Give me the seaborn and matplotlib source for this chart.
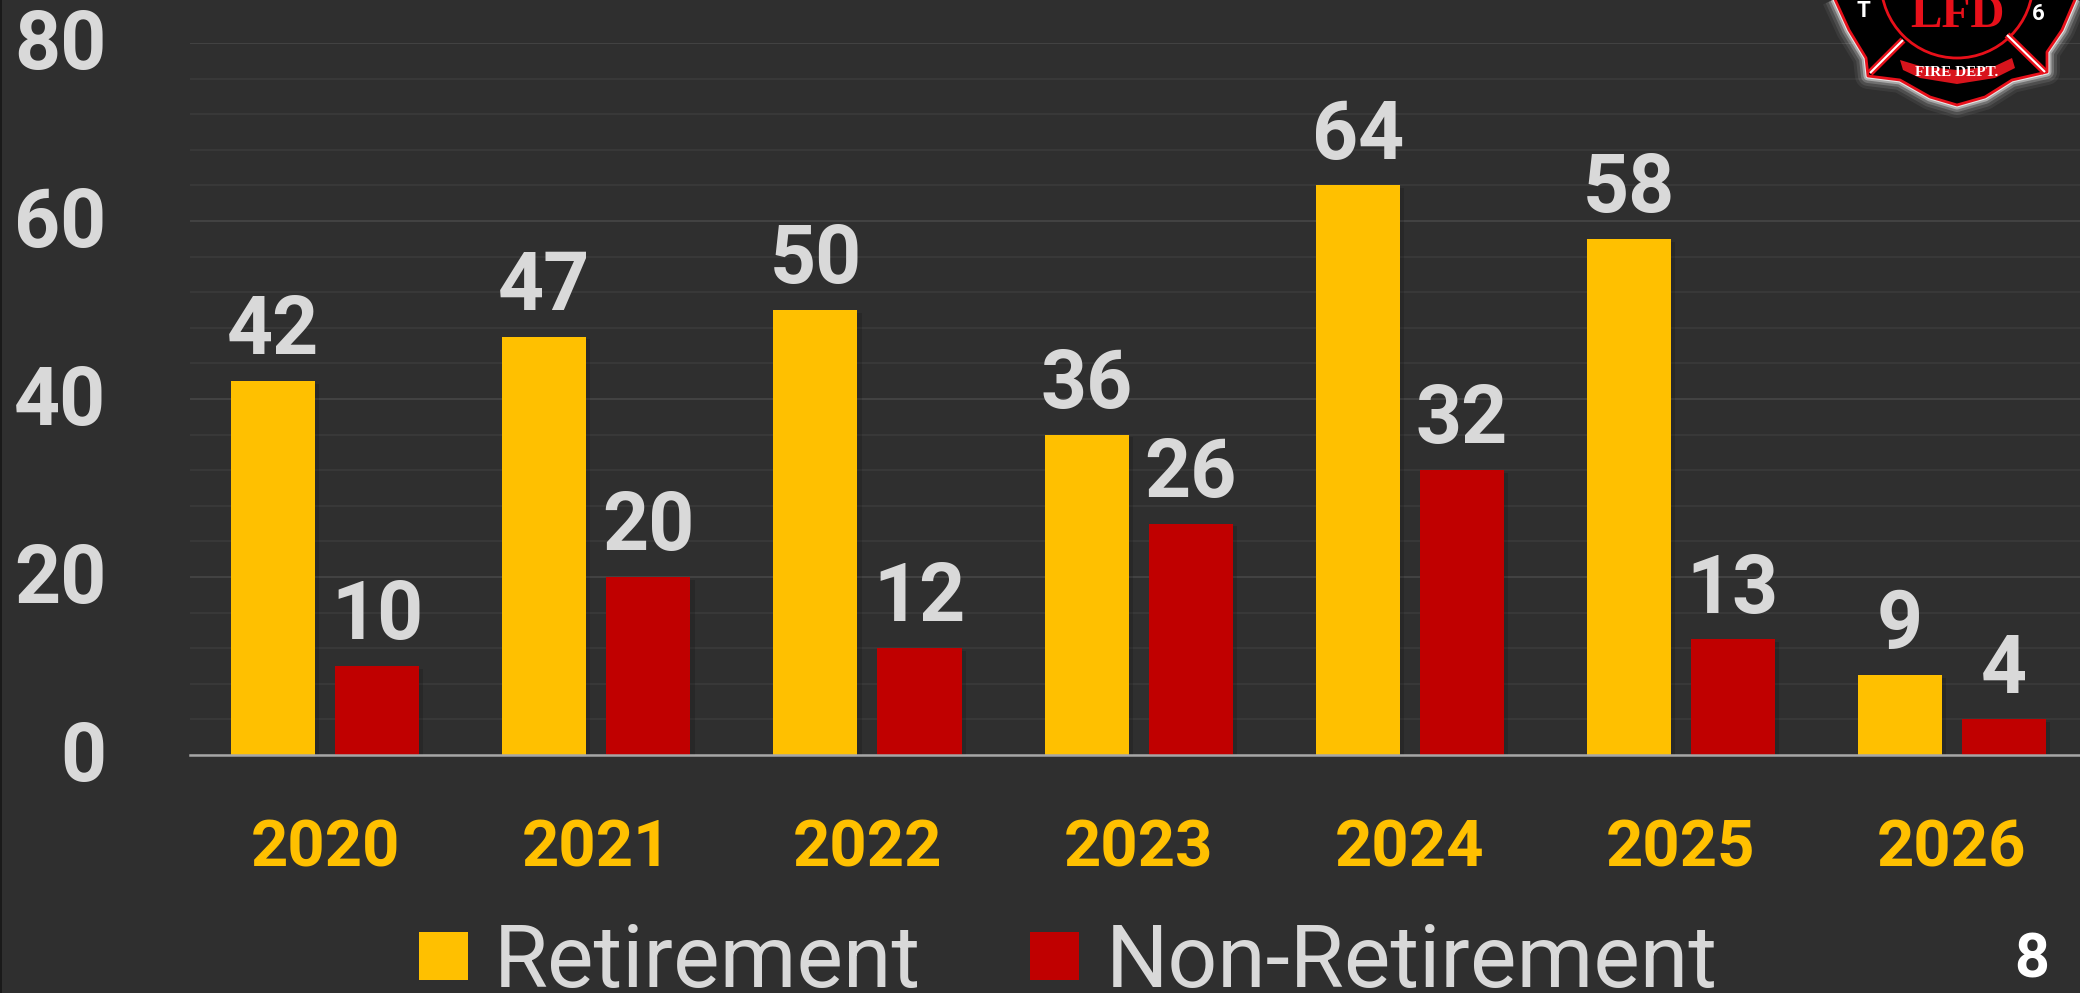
import numpy as np
import pandas as pd
import seaborn as sns
import matplotlib
matplotlib.use('Agg')
import matplotlib.pyplot as plt
import matplotlib.patheffects as pe
from matplotlib.patches import Polygon, Circle, Rectangle
from matplotlib.ticker import MultipleLocator
from matplotlib.transforms import ScaledTranslation

years = ['2020', '2021', '2022', '2023', '2024', '2025', '2026']
retirement = [42, 47, 50, 36, 64, 58, 9]
non_retirement = [10, 20, 12, 26, 32, 13, 4]
y_ticks = [0, 20, 40, 60, 80]

BG = '#2f2f2f'
YELLOW = '#ffc000'
RED = '#c00000'
GREY = '#d9d9d9'

sns.set_theme(style='dark', rc={'figure.facecolor': BG, 'axes.facecolor': BG})
plt.rcParams['font.family'] = ['Roboto', 'DejaVu Sans']

df = pd.DataFrame({
    'year': years * 2,
    'count': retirement + non_retirement,
    'kind': ['Retirement'] * 7 + ['Non-Retirement'] * 7,
})

W, H = 2080, 993
fig = plt.figure(figsize=(W / 100, H / 100), dpi=100, facecolor=BG)
# axes run a bit past the right edge, same as the slide
ax = fig.add_axes([189.6 / W, (H - 755) / H, 1898 / W, 712 / H])

sns.barplot(data=df, x='year', y='count', hue='kind', order=years,
            hue_order=['Retirement', 'Non-Retirement'],
            palette=[YELLOW, RED], saturation=1, width=0.7675, gap=0.192,
            linewidth=0, ax=ax, zorder=3)

ax.set_xlim(-0.5, 6.5)
ax.set_ylim(0, 80)
ax.set_xlabel('')
ax.set_ylabel('')
ax.set_yticks(y_ticks)
ax.yaxis.set_minor_locator(MultipleLocator(4))
ax.grid(True, axis='y', which='major', color='#464646', lw=1.2, zorder=0)
ax.grid(True, axis='y', which='minor', color='#3b3b3b', lw=1.2, zorder=0)
ax.grid(False, axis='x')
ax.set_axisbelow(True)
for s in ['top', 'left', 'right']:
    ax.spines[s].set_visible(False)
ax.spines['bottom'].set_color('#a6a6a6')
ax.spines['bottom'].set_linewidth(1.8)
ax.spines['bottom'].set_zorder(5)

ax.tick_params(axis='y', which='both', length=0)
ax.tick_params(axis='x', which='both', length=0, pad=46)
ax.tick_params(axis='y', which='major', pad=60)
up = ScaledTranslation(0, 5 / 100, fig.dpi_scale_trans)
for t in ax.get_yticklabels():
    t.set_fontsize(58)
    t.set_fontweight('bold')
    t.set_color(GREY)
    t.set_transform(t.get_transform() + up)
for t in ax.get_xticklabels():
    t.set_fontsize(47)
    t.set_fontweight('bold')
    t.set_color(YELLOW)

for cont in ax.containers:
    for b in cont:
        b.set_path_effects([pe.SimplePatchShadow(offset=(3, -2), shadow_rgbFace='black', alpha=0.15),
                            pe.Normal()])
    ax.bar_label(cont, fontsize=58, fontweight='bold', color=GREY, padding=7)

leg = ax.legend(loc='center', bbox_to_anchor=(1068 / W, (H - 963) / H), bbox_transform=fig.transFigure,
                ncol=2, frameon=False, prop={'family': 'Roboto', 'weight': 'normal', 'size': 63},
                handlelength=0.56, handleheight=0.48, handletextpad=0.3, columnspacing=1.25)
for t in leg.get_texts():
    t.set_color(GREY)

fig.text(2032 / W, 1 - 960 / H, '8', fontsize=44, fontweight='bold', color='white', ha='center', va='center')

# overlay in pixel coords for the logo and left edge
ov = fig.add_axes([0, 0, 1, 1], facecolor='none')
ov.set_xlim(0, W)
ov.set_ylim(H, 0)
ov.axis('off')
ov.add_patch(Rectangle((0, 0), 1.5, H, color='#1a1a1a', lw=0))

shield = [(1833, -5), (1849, 30), (1866, 58), (1868, 76), (1900, 80), (1930, 97), (1957, 105),
          (1985, 97), (2012, 80), (2047, 72), (2047, 52), (2062, 30), (2077, -5)]
for lw, a in [(26, 0.06), (20, 0.1), (14, 0.2), (9, 0.4), (5, 0.7)]:
    ov.add_patch(Polygon(shield, closed=True, fc='none', ec='white', lw=lw * 0.72, alpha=a, joinstyle='round'))
ov.add_patch(Polygon(shield, closed=True, fc='black', ec='#e8101a', lw=2, joinstyle='round'))
ov.add_patch(Circle((1957, -18), 76, fc='black', ec='#e8101a', lw=2))
ov.plot([1870, 1903], [73, 40], color='#e8101a', lw=5, solid_capstyle='butt')
ov.plot([1870, 1903], [73, 40], color='white', lw=1.5, solid_capstyle='butt')
ov.plot([2045, 2007], [72, 35], color='#e8101a', lw=5, solid_capstyle='butt')
ov.plot([2045, 2007], [72, 35], color='white', lw=1.5, solid_capstyle='butt')
ov.add_patch(Polygon([(1900, 60), (1920, 66), (1957, 70), (1995, 66), (2012, 58), (2015, 68),
                      (1995, 78), (1957, 84), (1920, 78), (1903, 70)], closed=True, fc='#d8141c', lw=0))
ov.text(1957, 73, 'FIRE DEPT.', fontsize=11, fontweight='bold', family='Liberation Serif', color='white',
        ha='center', va='center')
ov.text(1863, 11, 'T', fontsize=16, fontweight='bold', color='white', ha='center', va='center')
ov.text(2038, 14, '6', fontsize=16, fontweight='bold', color='white', ha='center', va='center')
ov.text(1957, 16, 'LFD', fontsize=34, fontweight='bold', family='Liberation Serif', color='#e8101a',
        ha='center', va='center')

fig.savefig('out.png', dpi=100, facecolor=BG)
